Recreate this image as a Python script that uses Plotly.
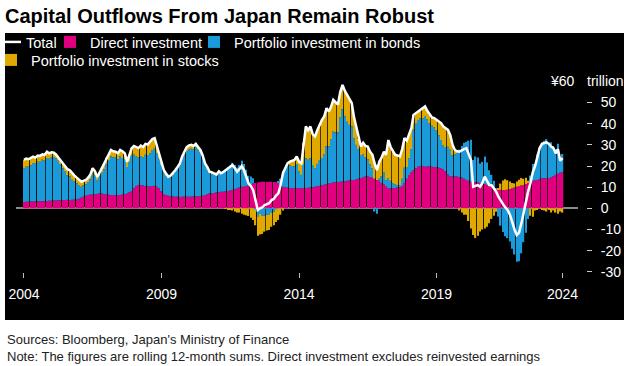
import pandas as pd
import plotly.graph_objects as go

# Monthly, Jan 2004 - Aug 2023, rolling 12-month sums, ¥ trillion
months = pd.date_range("2004-01-01", periods=236, freq="MS")

total = [
    23.0, 23.5, 23.2, 24.0, 24.4, 24.0, 25.0, 24.8, 25.5, 25.2, 26.8, 26.0,
    26.5, 26.3, 25.5, 24.0, 22.5, 21.0, 20.0, 18.5, 18.0, 16.5, 15.5, 14.5,
    13.5, 12.6, 13.0, 13.4, 14.5, 16.0, 19.0, 17.5, 14.8, 17.0, 19.0, 21.0,
    24.0, 26.0, 27.6, 27.0, 26.8, 26.0, 27.6, 27.0, 26.0, 22.0, 25.0, 28.4,
    29.5, 29.0, 28.5, 29.7, 29.0, 30.5, 30.2, 31.5, 32.8, 33.2, 29.5, 26.0,
    22.0, 18.0, 16.5, 15.0, 15.5, 16.6, 18.0, 19.5, 21.3, 24.5, 26.8, 29.0,
    29.8, 30.0, 29.5, 30.5, 29.0, 27.6, 25.0, 21.3, 19.5, 17.3, 17.0, 16.6,
    16.0, 17.5, 16.6, 17.2, 18.0, 19.0, 19.5, 20.5, 19.0, 17.3, 18.5, 20.0,
    18.0, 15.0, 11.8, 10.5, 8.7, 4.0, -0.8, 0.0, 0.5, 1.6, 2.0, 2.4,
    3.9, 4.5, 6.0, 7.1, 11.0, 16.6, 19.0, 21.3, 22.1, 22.5, 22.9, 24.5,
    22.0, 21.3, 31.0, 38.7, 37.0, 38.7, 35.0, 34.0, 37.0, 39.5, 41.8, 43.5,
    47.4, 45.8, 48.0, 51.3, 50.0, 49.0, 55.0, 58.4, 55.5, 53.7, 51.5, 49.8,
    43.0, 38.0, 33.0, 29.2, 31.0, 29.5, 29.2, 26.8, 25.3, 21.0, 18.1, 22.0,
    24.0, 26.8, 25.3, 32.3, 29.0, 27.0, 25.3, 25.0, 24.5, 28.0, 33.2, 32.0,
    35.5, 38.0, 44.2, 45.0, 45.8, 46.5, 47.0, 48.2, 46.0, 44.2, 43.0, 42.7,
    41.8, 41.0, 40.3, 38.7, 38.0, 37.1, 34.7, 30.0, 27.6, 27.0, 26.8, 27.5,
    28.0, 28.4, 26.0, 22.9, 10.2, 10.5, 11.0, 10.2, 12.0, 15.0, 13.0, 11.0,
    10.9, 9.5, 8.0, 5.5, 3.5, 2.0, 0.5, -0.8, -3.0, -7.1, -10.0, -12.6,
    -11.5, -7.0, -2.0, 3.0, 8.0, 12.0, 17.0, 20.0, 25.0, 28.5, 30.5, 31.0,
    31.2, 30.5, 29.2, 28.5, 26.0, 28.0, 22.5, 23.7,
]

direct = [
    3.0, 3.1, 3.1, 3.2, 3.2, 3.3, 3.3, 3.4, 3.4, 3.5, 3.5, 3.6,
    3.6, 3.7, 3.7, 3.8, 3.8, 3.9, 3.9, 4.0, 4.0, 4.1, 4.1, 4.2,
    4.5, 5.0, 5.5, 6.0, 6.3, 6.5, 6.5, 6.6, 6.8, 7.0, 7.0, 6.8,
    6.6, 6.4, 6.3, 6.3, 6.2, 6.3, 6.3, 6.5, 6.8, 7.0, 7.5, 7.9,
    9.5, 10.5, 11.0, 11.0, 10.8, 10.5, 10.5, 10.3, 10.5, 10.6, 10.2, 9.5,
    8.0, 6.8, 6.3, 6.0, 5.8, 5.6, 5.5, 5.5, 5.4, 5.5, 5.5, 5.5,
    5.5, 5.5, 5.6, 5.6, 5.7, 5.8, 6.0, 6.3, 6.6, 7.0, 7.1, 7.3,
    7.5, 7.6, 7.8, 7.9, 8.0, 8.2, 8.4, 8.7, 9.0, 9.4, 9.8, 10.2,
    10.2, 10.5, 10.8, 11.2, 11.8, 12.0, 12.2, 12.4, 12.6, 12.6, 12.5, 12.6,
    12.6, 12.5, 12.4, 12.3, 11.0, 10.2, 10.0, 9.8, 9.5, 9.5, 9.6, 9.5,
    9.5, 9.5, 9.6, 9.6, 9.7, 9.8, 10.0, 10.2, 10.4, 10.6, 11.0, 11.2,
    11.5, 11.8, 12.0, 12.2, 12.3, 12.5, 12.6, 12.6, 12.8, 13.0, 13.2, 13.4,
    13.4, 13.6, 14.0, 14.3, 14.6, 15.0, 15.0, 14.8, 14.5, 14.0, 13.4, 13.0,
    12.0, 11.5, 10.5, 9.5, 9.5, 9.6, 9.5, 9.8, 10.0, 10.3, 12.0, 14.0,
    15.8, 17.0, 18.0, 19.0, 19.7, 19.8, 20.0, 19.7, 19.8, 19.9, 19.7, 19.6,
    19.5, 19.2, 19.0, 18.5, 17.5, 16.0, 15.0, 15.0, 15.0, 15.0, 14.8, 14.5,
    14.0, 13.5, 13.0, 12.6, 12.6, 12.4, 12.2, 12.0, 11.8, 11.5, 11.0, 10.5,
    10.2, 9.8, 9.3, 8.9, 8.7, 8.7, 8.7, 8.8, 9.2, 9.5, 9.8, 10.2,
    10.5, 10.8, 11.0, 11.5, 12.0, 12.6, 13.0, 13.2, 13.4, 13.8, 14.2, 14.2,
    14.2, 14.4, 14.6, 15.2, 15.8, 16.3, 16.8, 17.0,
]

bonds = [
    16.0, 16.6, 16.6, 17.2, 18.2, 17.9, 18.7, 18.6, 19.6, 19.1, 20.3, 19.9,
    20.7, 20.6, 20.0, 18.7, 17.1, 15.1, 13.7, 11.7, 11.0, 9.4, 8.6, 7.7,
    6.5, 5.2, 5.3, 5.4, 6.2, 7.2, 10.0, 8.9, 6.5, 8.2, 9.8, 11.7,
    14.4, 16.4, 18.3, 17.9, 18.1, 16.9, 18.3, 17.3, 16.2, 12.5, 14.5, 17.0,
    16.0, 14.0, 13.0, 13.7, 13.2, 14.8, 14.7, 15.7, 16.8, 17.6, 15.8, 14.0,
    12.5, 10.2, 9.4, 8.4, 9.2, 10.5, 11.9, 13.2, 14.9, 17.8, 19.8, 21.7,
    22.3, 22.7, 22.4, 23.4, 22.1, 20.8, 18.2, 14.4, 12.4, 9.8, 9.4, 8.8,
    8.0, 9.5, 8.5, 9.3, 10.3, 11.3, 11.9, 12.8, 11.5, 9.9, 10.7, 12.3,
    10.8, 7.8, 4.6, 3.8, 2.4, -0.5, -3.7, -2.4, -3.6, -3.4, -3.0, -3.2,
    -2.2, -1.5, -0.4, 0.3, 3.0, 7.4, 8.5, 10.5, 10.8, 10.5, 10.3, 11.5,
    8.0, 6.3, 11.4, 14.1, 13.3, 13.9, 10.5, 8.8, 10.6, 11.9, 12.8, 14.3,
    17.9, 17.5, 20.6, 24.1, 23.7, 23.5, 30.4, 34.2, 30.7, 28.0, 26.3, 25.4,
    19.6, 16.4, 14.0, 10.9, 10.9, 9.0, 8.2, 6.0, 4.5, -1.5, -2.5, 1.0,
    3.0, 5.5, 2.8, 4.8, 3.5, 2.4, 1.8, 1.2, 1.0, 3.7, 7.2, 5.5,
    7.9, 11.0, 19.2, 21.0, 22.1, 22.7, 22.5, 24.0, 22.2, 20.3, 19.3, 18.6,
    17.3, 15.3, 13.3, 11.2, 11.5, 13.1, 12.7, 10.0, 10.6, 11.5, 13.0, 15.0,
    17.0, 17.9, 19.0, 19.8, 10.2, 12.1, 11.8, 9.2, 10.2, 13.0, 10.7, 7.5,
    5.7, 3.2, 0.3, -3.9, -8.2, -11.2, -13.2, -14.1, -15.7, -19.1, -21.8, -25.3,
    -25.0, -21.3, -16.0, -11.5, -5.0, 2.9, 8.0, 7.8, 12.1, 14.7, 16.8, 17.8,
    18.5, 16.6, 16.6, 14.3, 12.2, 14.2, 7.2, 8.7,
]

stocks = [
    4.0, 3.8, 3.5, 3.6, 3.0, 2.8, 3.0, 2.8, 2.5, 2.6, 3.0, 2.5,
    2.2, 2.0, 1.8, 1.5, 1.6, 2.0, 2.4, 2.8, 3.0, 3.0, 2.8, 2.6,
    2.5, 2.4, 2.2, 2.0, 2.0, 2.3, 2.5, 2.0, 1.5, 1.8, 2.2, 2.5,
    3.0, 3.2, 3.0, 2.8, 2.5, 2.8, 3.0, 3.2, 3.0, 2.5, 3.0, 3.5,
    4.0, 4.5, 4.5, 5.0, 5.0, 5.2, 5.0, 5.5, 5.5, 5.0, 3.5, 2.5,
    1.5, 1.0, 0.8, 0.6, 0.5, 0.5, 0.6, 0.8, 1.0, 1.2, 1.5, 1.8,
    2.0, 1.8, 1.5, 1.5, 1.2, 1.0, 0.8, 0.6, 0.5, 0.5, 0.5, 0.5,
    0.5, 0.4, 0.3, 0.0, -0.3, -0.5, -0.8, -1.0, -1.5, -2.0, -2.0, -2.5,
    -3.0, -3.3, -3.6, -4.5, -5.5, -7.5, -9.3, -10.0, -8.5, -7.6, -7.5, -7.0,
    -6.5, -6.5, -6.0, -5.5, -3.0, -1.0, 0.5, 1.0, 1.8, 2.5, 3.0, 3.5,
    4.5, 5.5, 10.0, 15.0, 14.0, 15.0, 14.5, 15.0, 16.0, 17.0, 18.0, 18.0,
    18.0, 16.5, 15.4, 15.0, 14.0, 13.0, 12.0, 11.6, 12.0, 12.7, 12.0, 11.0,
    10.0, 8.0, 5.0, 4.0, 5.5, 5.5, 6.0, 6.0, 6.3, 8.5, 7.2, 8.0,
    9.0, 9.8, 12.0, 18.0, 16.0, 15.0, 14.0, 14.0, 13.5, 14.0, 14.0, 12.5,
    11.8, 10.0, 7.0, 5.0, 4.0, 4.0, 4.5, 4.5, 4.0, 4.0, 4.0, 4.5,
    5.0, 6.5, 8.0, 9.0, 9.0, 8.0, 7.0, 5.0, 2.0, 0.5, -1.0, -2.0,
    -3.0, -3.0, -6.0, -9.5, -12.6, -14.0, -13.0, -11.0, -10.0, -9.5, -8.7, -7.0,
    -5.0, -3.5, -1.6, 0.5, 3.0, 4.5, 5.0, 4.5, 3.5, 2.5, 2.0, 2.5,
    3.0, 3.5, 3.0, 3.0, 1.0, -3.5, -4.0, -1.0, -0.5, 0.0, -0.5, -1.0,
    -1.5, -0.5, -2.0, -1.0, -2.0, -2.5, -1.5, -2.0,
]

y_tick_vals = [-30, -20, -10, 0, 10, 20, 30, 40, 50]
y_tick_text = ["-30", "-20", "-10", "0", "10", "20", "30", "40", "50"]
x_tick_vals = ["2004-01-01", "2009-01-01", "2014-01-01", "2019-01-01", "2023-08-01"]
x_tick_text = ["2004", "2009", "2014", "2019", "2024"]

MAGENTA = "#e0007f"
BLUE = "#1a9ad8"
GOLD = "#dfa900"
FONT = "Liberation Sans"

W, H = 624, 366
L, R, T, B = 16, 30, 77, 94
PW, PH = W - L - R, H - T - B


def px(x):
    return (x - L) / PW


def py(y):
    return (H - B - y) / PH


fig = go.Figure()
fig.add_trace(go.Bar(x=months, y=direct, name="Direct investment", legend="legend2",
                     marker=dict(color=MAGENTA, line=dict(width=0))))
fig.add_trace(go.Bar(x=months, y=bonds, name="Portfolio investment in bonds", legend="legend3",
                     marker=dict(color=BLUE, line=dict(width=0))))
fig.add_trace(go.Bar(x=months, y=stocks, name="Portfolio investment in stocks", legend="legend4",
                     marker=dict(color=GOLD, line=dict(width=0))))
fig.add_trace(go.Scatter(x=months, y=total, name="Total", mode="lines", legend="legend",
                         line=dict(color="white", width=2.5)))

LEG_FONT = dict(family=FONT, size=14.5, color="white")


def leg(x_pix, top_pix):
    return dict(orientation="h", x=px(x_pix), xanchor="left", y=py(top_pix), yanchor="top",
                bgcolor="rgba(0,0,0,0)", font=LEG_FONT, borderwidth=0,
                itemclick=False, itemdoubleclick=False)


fig.update_layout(
    width=W, height=H,
    margin=dict(l=L, r=R, t=T, b=B, autoexpand=False),
    paper_bgcolor="white",
    plot_bgcolor="black",
    barmode="relative",
    bargap=0.35,
    font=dict(family=FONT, color="white", size=13),
    title=dict(text="Capital Outflows From Japan Remain Robust",
               x=5 / W, xanchor="left", y=1 - 16 / H, yanchor="middle",
               xref="container", yref="container",
               font=dict(family=FONT, size=20, color="black", weight="bold")),
    showlegend=True,
    legend=leg(-14, 26),
    legend2=leg(50, 26),
    legend3=leg(194, 26),
    legend4=leg(-9, 44),
    xaxis=dict(type="date", domain=[0, (578 - L) / PW],
               range=["2003-09-17", "2024-02-22"],
               showgrid=False, zeroline=False, showline=False,
               tickmode="array", tickvals=x_tick_vals, ticktext=x_tick_text,
               ticks="outside", ticklen=5, tickwidth=1, tickcolor="#bbbbbb",
               ticklabelstandoff=4,
               tickfont=dict(family=FONT, size=14, color="white")),
    yaxis=dict(range=[-30.1, 62.1], anchor="free", position=(586 - L) / PW, side="right",
               showgrid=False, showline=False,
               zeroline=True, zerolinecolor="#8c8c8c", zerolinewidth=1.5,
               tickmode="array", tickvals=y_tick_vals, ticktext=y_tick_text,
               ticks="outside", ticklen=5, tickwidth=1, tickcolor="#cccccc",
               ticklabelstandoff=6,
               tickfont=dict(family=FONT, size=14, color="white")),
    shapes=[dict(type="rect", xref="paper", yref="paper",
                 x0=px(5), x1=px(624), y0=py(320), y1=py(33),
                 fillcolor="black", line=dict(width=0), layer="below")],
    annotations=[
        dict(text="¥60", xref="paper", yref="y", x=px(577), y=60, xanchor="right",
             yanchor="middle", showarrow=False, font=dict(family=FONT, size=14, color="white")),
        dict(text="trillion", xref="paper", yref="y", x=px(585), y=60, xanchor="left",
             yanchor="middle", showarrow=False, font=dict(family=FONT, size=14, color="white")),
        dict(text="Sources: Bloomberg, Japan's Ministry of Finance", xref="paper", yref="paper",
             x=px(5), y=py(339), xanchor="left", yanchor="middle", showarrow=False,
             font=dict(family=FONT, size=13, color="#222222")),
        dict(text="Note: The figures are rolling 12-month sums. Direct investment excludes reinvested earnings",
             xref="paper", yref="paper", x=px(5), y=py(356), xanchor="left", yanchor="middle",
             showarrow=False, font=dict(family=FONT, size=13, color="#222222")),
    ],
)

fig.write_html("out.html", config={"displayModeBar": False},
               post_script="document.body.style.margin='0';document.body.style.padding='0';")
